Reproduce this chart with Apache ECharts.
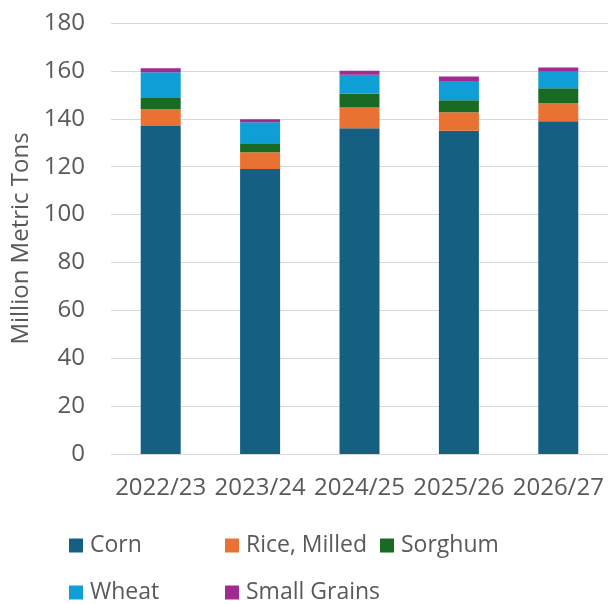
<!DOCTYPE html>
<html>
<head>
<meta charset="utf-8">
<script src="https://cdn.jsdelivr.net/npm/echarts@6/dist/echarts.min.js"></script>
<style>
  html, body { margin: 0; padding: 0; background: #fff; }
  #chart { width: 608px; height: 604px; }
</style>
</head>
<body>
<div id="chart"></div>
<script>
// marketing years
var years = ["2022/23", "2023/24", "2024/25", "2025/26", "2026/27"];
// million metric tons
var corn = [137, 119, 136, 135, 139];
var rice = [7, 7, 8.7, 7.7, 7.5];
var sorghum = [4.7, 3.8, 5.8, 5, 6.3];
var wheat = [10.7, 8.8, 7.9, 8.1, 6.8];
var smallGrains = [1.7, 1.2, 1.7, 1.9, 1.8];
var yTicks = [0, 20, 40, 60, 80, 100, 120, 140, 160, 180];

var font = "'Open Sans', sans-serif";
var names = ["Corn", "Rice, Milled", "Sorghum", "Wheat", "Small Grains"];
var colors = ["#156082", "#E97132", "#196B24", "#0F9ED5", "#A02B93"];
var values = [corn, rice, sorghum, wheat, smallGrains];

// legend slots (Excel style two rows)
var legendPos = [[64, 529], [220, 529], [375, 529], [64, 576], [220, 576]];

var chart = echarts.init(document.getElementById("chart"));
chart.setOption({
  animation: false,
  color: colors,
  textStyle: { fontFamily: font },
  grid: { left: 111, right: 0, top: 23, bottom: 150 },
  legend: names.map(function (n, i) {
    return {
      data: [n],
      left: legendPos[i][0],
      top: legendPos[i][1],
      itemWidth: 14,
      itemHeight: 14,
      itemGap: 0,
      icon: "rect",
      textStyle: { fontSize: 23, color: "#595959", fontFamily: font, padding: [0, 0, 0, 2] }
    };
  }),
  xAxis: {
    type: "category",
    data: years,
    axisLine: { show: false },
    axisTick: { show: false },
    axisLabel: { interval: 0, fontSize: 24, color: "#595959", margin: 22 }
  },
  yAxis: {
    type: "value",
    min: yTicks[0],
    max: yTicks[yTicks.length - 1],
    interval: 20,
    name: "Million Metric Tons",
    nameLocation: "middle",
    nameGap: 78,
    nameTextStyle: { fontSize: 24, color: "#595959" },
    axisLabel: { fontSize: 24, color: "#595959", margin: 26 },
    splitLine: { lineStyle: { color: "#d9d9d9", width: 1 } }
  },
  series: names.map(function (n, i) {
    return {
      name: n,
      type: "bar",
      stack: "total",
      data: values[i],
      barWidth: 40
    };
  })
});
</script>
</body>
</html>
